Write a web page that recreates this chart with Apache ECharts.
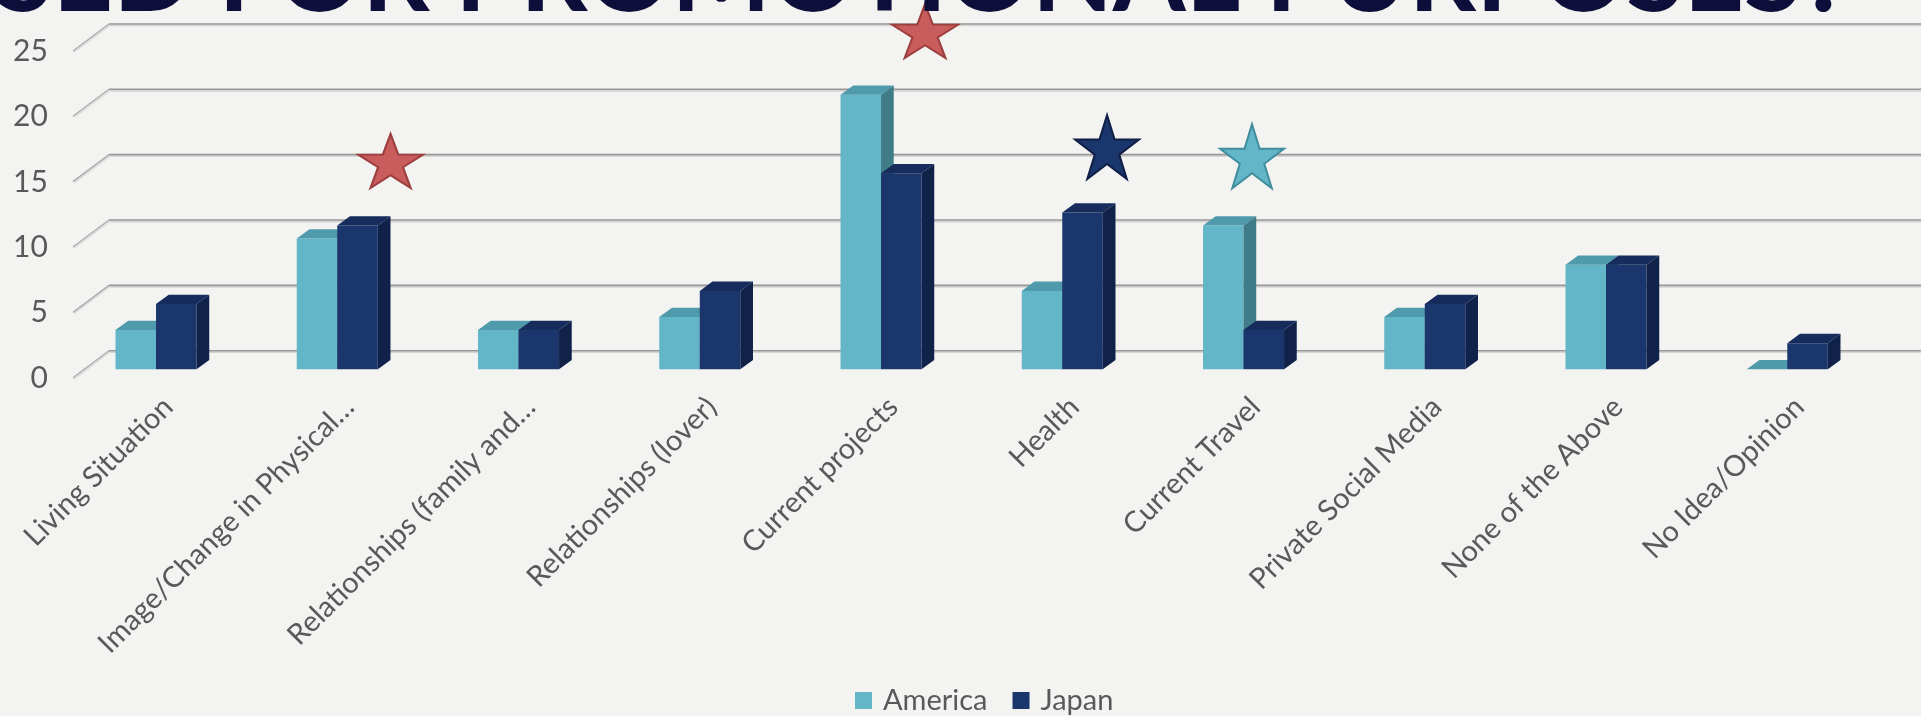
<!DOCTYPE html>
<html>
<head>
<meta charset="utf-8">
<script src="https://cdn.jsdelivr.net/npm/echarts@6/dist/echarts.min.js"></script>
<style>
html,body{margin:0;padding:0;background:#f3f3f1;}
#c{width:1921px;height:716px;}
</style>
</head>
<body>
<div id="c"></div>
<script>
// ---- data ----
const categories = ['Living Situation', 'Image/Change in Physical…', 'Relationships (family and…', 'Relationships (lover)', 'Current projects', 'Health', 'Current Travel', 'Private Social Media', 'None of the Above', 'No Idea/Opinion'];
const america = [3, 10, 3, 4, 21, 6, 11, 4, 8, 0];
const japan = [5, 11, 3, 6, 15, 12, 3, 5, 8, 2];
const yTicks = [0, 5, 10, 15, 20, 25];
const seriesNames = ['America', 'Japan'];
// star annotations (position on category scale, value scale)
const starX = [1.294, 4.243, 5.247, 6.047];
const starY = [15.94, 25.88, 17.0, 16.3];
const titleText = 'BE USED FOR PROMOTIONAL PURPOSES?';

// ---- styles ----
const FONT = 'Lato';
const TEXT = '#595959';
const BG = '#f3f3f1';
const AM = {front: '#63b5c8', top: '#4f9aab', side: '#3f7c87', name: 'America'};
const JP = {front: '#1b356d', top: '#162c5c', side: '#10214a', name: 'Japan'};
const starStyles = [
  {size: [65, 54], fill: '#c95d5d', stroke: '#9e3f3f'},
  {size: [66, 54], fill: '#c95d5d', stroke: '#9e3f3f'},
  {size: [64, 64], fill: '#1b356d', stroke: '#0f1f45'},
  {size: [64, 64], fill: '#63b5c8', stroke: '#3f8d9d'}
];
const DEPTH_DX = 12.7, DEPTH_DY = 9.3;   // bar depth
const BAR_FRAC = 0.2235;                 // bar width / band
const WALL_DX = 43.6, WALL_DY = 18.6;     // back wall offset from bar front
const DIAG_DX = 36, DIAG_DY = 27;         // side-wall diagonal

function starPath() {
  const pts = [];
  const R = 1, r = 0.382;
  for (let i = 0; i < 10; i++) {
    const a = -Math.PI / 2 + i * Math.PI / 5;
    const rad = i % 2 === 0 ? R : r;
    pts.push((rad * Math.cos(a)).toFixed(4) + ' ' + (rad * Math.sin(a)).toFixed(4));
  }
  return 'path://M' + pts.join(' L') + ' Z';
}

function barRenderer(col, leftSide) {
  return function (params, api) {
    const cat = api.value(0), val = api.value(1);
    const base = api.coord([cat, 0]);
    const top = api.coord([cat, val]);
    const band = api.size([1, 0])[0];
    const bw = band * BAR_FRAC;
    const x0 = leftSide ? base[0] - bw : base[0];
    const x1 = x0 + bw;
    const yt = top[1], yb = base[1];
    return {
      type: 'group',
      children: [
        {type: 'rect', shape: {x: x0, y: yt, width: bw, height: yb - yt}, style: {fill: col.front}},
        {type: 'polygon', shape: {points: [[x0, yt], [x1, yt], [x1 + DEPTH_DX, yt - DEPTH_DY], [x0 + DEPTH_DX, yt - DEPTH_DY]]}, style: {fill: col.top}},
        {type: 'polygon', shape: {points: [[x1, yt], [x1 + DEPTH_DX, yt - DEPTH_DY], [x1 + DEPTH_DX, yb - DEPTH_DY], [x1, yb]]}, style: {fill: col.side}}
      ]
    };
  };
}

function gridRenderer(params, api) {
  const p = api.coord([0, api.value(1)]);
  const cs = params.coordSys;
  const wx = cs.x + WALL_DX;
  const wy = p[1] - WALL_DY;
  const W = api.getWidth();
  return {
    type: 'group',
    children: [
      {type: 'line', shape: {x1: wx, y1: wy + 1.6, x2: W, y2: wy + 1.6}, style: {stroke: '#d4d4d2', lineWidth: 1.6}},
      {type: 'line', shape: {x1: wx, y1: wy, x2: W, y2: wy}, style: {stroke: '#979797', lineWidth: 1.6}},
      {type: 'line', shape: {x1: wx + 1.2, y1: wy + 1.2, x2: wx - DIAG_DX + 1.2, y2: wy + DIAG_DY + 1.2}, style: {stroke: '#dcdcda', lineWidth: 1.4}},
      {type: 'line', shape: {x1: wx, y1: wy, x2: wx - DIAG_DX, y2: wy + DIAG_DY}, style: {stroke: '#ababab', lineWidth: 1.4}}
    ]
  };
}

const chart = echarts.init(document.getElementById('c'));
const gTop = 42.55, gBottom = 346.7, gLeft = 65.4, gRight = 43.1;
const option = {
  backgroundColor: BG,
  animation: false,
  textStyle: {fontFamily: FONT},
  graphic: [{
    type: 'text', z: 10,
    style: {text: titleText, x: 1850, y: 30, align: 'right', verticalAlign: 'bottom',
      font: 'bold 105px Lato', fill: '#0e0e3a'}
  }],
  grid: [
    {left: gLeft, right: gRight, top: gTop, bottom: gBottom},                       // bars (front face)
    {left: gLeft - 11.6, right: gRight + 11.6, top: gTop + 8.7, bottom: gBottom - 8.7}, // front plane (y labels)
    {left: gLeft + 12, right: gRight - 12, top: gTop, bottom: gBottom}               // category labels
  ],
  xAxis: [
    {type: 'category', gridIndex: 0, data: categories, show: false},
    {type: 'value', gridIndex: 0, min: -0.5, max: 9.5, show: false},
    {type: 'category', gridIndex: 1, data: categories, show: false},
    {type: 'category', gridIndex: 2, data: categories,
      axisLine: {show: false}, axisTick: {show: false},
      axisLabel: {interval: 0, rotate: 45, margin: 33, fontSize: 29, color: TEXT, fontFamily: FONT}}
  ],
  yAxis: [
    {type: 'value', gridIndex: 0, min: 0, max: 25, interval: 5, show: false},
    {type: 'value', gridIndex: 1, min: 0, max: 25, interval: 5,
      axisLine: {show: false}, axisTick: {show: false}, splitLine: {show: false},
      axisLabel: {margin: 6, fontSize: 30, color: TEXT, fontFamily: FONT}},
    {type: 'value', gridIndex: 2, min: 0, max: 25, interval: 5, show: false}
  ],
  legend: {
    data: seriesNames, left: 850, top: 681, itemWidth: 17, itemHeight: 17, itemGap: 25,
    icon: 'rect',
    textStyle: {fontSize: 29, color: TEXT, fontFamily: FONT, padding: [0, 0, 0, 6]}
  },
  series: [
    {type: 'custom', name: 'grid', xAxisIndex: 0, yAxisIndex: 0, z: 1, silent: true, clip: false,
      data: yTicks.map(t => [0, t]), renderItem: gridRenderer},
    {type: 'custom', name: seriesNames[0], xAxisIndex: 0, yAxisIndex: 0, z: 3, clip: false,
      itemStyle: {color: AM.front},
      data: america.map((v, i) => [i, v]), renderItem: barRenderer(AM, true)},
    {type: 'custom', name: seriesNames[1], xAxisIndex: 0, yAxisIndex: 0, z: 4, clip: false,
      itemStyle: {color: JP.front},
      data: japan.map((v, i) => [i, v]), renderItem: barRenderer(JP, false)},
    {type: 'scatter', name: 'stars', xAxisIndex: 1, yAxisIndex: 0, z: 5, clip: false,
      symbol: starPath(), symbolKeepAspect: false,
      data: starX.map((x, i) => ({
        value: [x, starY[i]],
        symbolSize: starStyles[i].size,
        itemStyle: {color: starStyles[i].fill, borderColor: starStyles[i].stroke, borderWidth: 2, opacity: 1}
      }))}
  ]
};
chart.setOption(option);
</script>
</body>
</html>
